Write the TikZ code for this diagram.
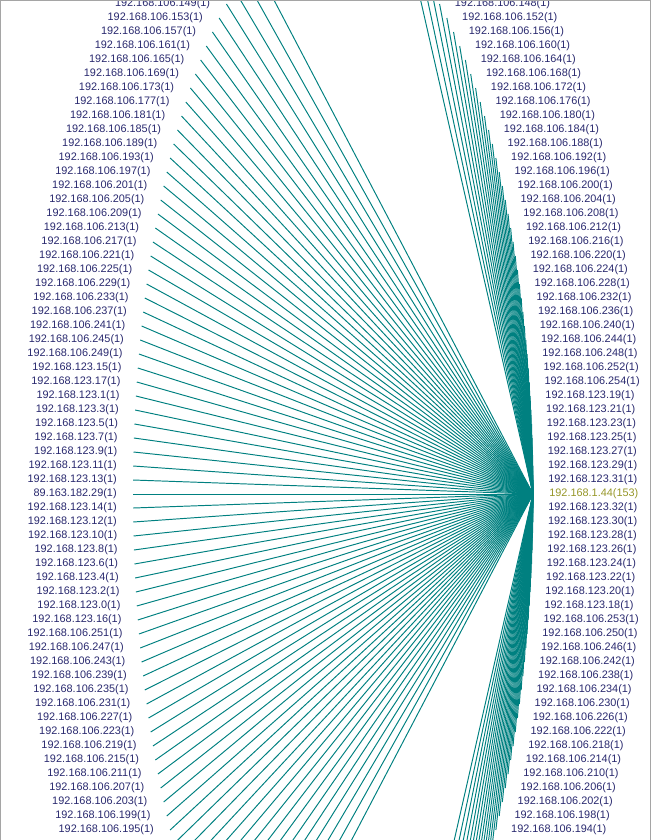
\documentclass[tikz,border=0pt]{standalone}
\usepackage{fontspec}
\setmainfont{Liberation Sans}
\usetikzlibrary{positioning}
\definecolor{linkteal}{RGB}{0,128,128}
\definecolor{hostblue}{RGB}{40,40,110}
\definecolor{hubolive}{RGB}{150,150,40}
\definecolor{framegray}{RGB}{165,165,165}
\tikzset{
   host/.style={ inner sep=0pt, text=hostblue, font=\fontsize{6.2pt}{7pt}\selectfont},
   hub host/.style={ host, text=hubolive},
   link/.style={ draw=linkteal, line width=0.55pt},
   frame/.style={ draw=framegray, line width=0.6pt},
}

\begin{document}
\begin{tikzpicture}[x=0.02cm,y=-0.02cm]
  \useasboundingbox (0,0) rectangle (651,840);
  \clip (0,0) rectangle (651,840);

  % hub sits on the right end of the ring
  \coordinate (hub) at (533,494);
  \node[hub host, right=0.32cm of hub] (hub text) {192.168.1.44(153)};

  % left half of the ring
  \foreach \lab [count=\n] in {
      192.168.106.149(1), 192.168.106.153(1), 192.168.106.157(1), 192.168.106.161(1),
      192.168.106.165(1), 192.168.106.169(1), 192.168.106.173(1), 192.168.106.177(1),
      192.168.106.181(1), 192.168.106.185(1), 192.168.106.189(1), 192.168.106.193(1),
      192.168.106.197(1), 192.168.106.201(1), 192.168.106.205(1), 192.168.106.209(1),
      192.168.106.213(1), 192.168.106.217(1), 192.168.106.221(1), 192.168.106.225(1),
      192.168.106.229(1), 192.168.106.233(1), 192.168.106.237(1), 192.168.106.241(1),
      192.168.106.245(1), 192.168.106.249(1), 192.168.123.15(1), 192.168.123.17(1),
      192.168.123.1(1), 192.168.123.3(1), 192.168.123.5(1), 192.168.123.7(1),
      192.168.123.9(1), 192.168.123.11(1), 192.168.123.13(1), 89.163.182.29(1),
      192.168.123.14(1), 192.168.123.12(1), 192.168.123.10(1), 192.168.123.8(1),
      192.168.123.6(1), 192.168.123.4(1), 192.168.123.2(1), 192.168.123.0(1),
      192.168.123.16(1), 192.168.106.251(1), 192.168.106.247(1), 192.168.106.243(1),
      192.168.106.239(1), 192.168.106.235(1), 192.168.106.231(1), 192.168.106.227(1),
      192.168.106.223(1), 192.168.106.219(1), 192.168.106.215(1), 192.168.106.211(1),
      192.168.106.207(1), 192.168.106.203(1), 192.168.106.199(1), 192.168.106.195(1)} {
    \pgfmathsetmacro{\dy}{14*(\n-36)}
    \pgfmathsetmacro{\px}{333-200*sqrt(1-(\dy/579)^2)}
    \coordinate (L\n) at (\px,494+\dy);
    \node[host, left=0.32cm of L\n] (tL\n) {\lab};
    \draw[link] (hub) -- (L\n);
  }

  % right half of the ring
  \foreach \lab [count=\n] in {
      192.168.106.148(1), 192.168.106.152(1), 192.168.106.156(1), 192.168.106.160(1),
      192.168.106.164(1), 192.168.106.168(1), 192.168.106.172(1), 192.168.106.176(1),
      192.168.106.180(1), 192.168.106.184(1), 192.168.106.188(1), 192.168.106.192(1),
      192.168.106.196(1), 192.168.106.200(1), 192.168.106.204(1), 192.168.106.208(1),
      192.168.106.212(1), 192.168.106.216(1), 192.168.106.220(1), 192.168.106.224(1),
      192.168.106.228(1), 192.168.106.232(1), 192.168.106.236(1), 192.168.106.240(1),
      192.168.106.244(1), 192.168.106.248(1), 192.168.106.252(1), 192.168.106.254(1),
      192.168.123.19(1), 192.168.123.21(1), 192.168.123.23(1), 192.168.123.25(1),
      192.168.123.27(1), 192.168.123.29(1), 192.168.123.31(1),
      192.168.123.32(1), 192.168.123.30(1), 192.168.123.28(1), 192.168.123.26(1),
      192.168.123.24(1), 192.168.123.22(1), 192.168.123.20(1), 192.168.123.18(1),
      192.168.106.253(1), 192.168.106.250(1), 192.168.106.246(1), 192.168.106.242(1),
      192.168.106.238(1), 192.168.106.234(1), 192.168.106.230(1), 192.168.106.226(1),
      192.168.106.222(1), 192.168.106.218(1), 192.168.106.214(1), 192.168.106.210(1),
      192.168.106.206(1), 192.168.106.202(1), 192.168.106.198(1), 192.168.106.194(1)} {
    \pgfmathtruncatemacro{\k}{\n<36 ? \n-36 : \n-35}
    \pgfmathsetmacro{\px}{333+200*sqrt(1-(14*\k/579)^2)}
    \coordinate (R\n) at (\px,494+14*\k);
    \node[host, right=0.3cm of R\n] (tR\n) {\lab};
    \draw[link] (hub) -- (R\n);
  }

  % hosts beyond the top and bottom edge, only their links show
  \foreach \k in {-38,-37,-36,25,26,...,38} {
    \pgfmathtruncatemacro{\m}{\k+40}
    \pgfmathsetmacro{\px}{200*sqrt(1-(14*\k/579)^2)}
    \coordinate (Lo\m) at (333-\px,494+14*\k);
    \coordinate (Ro\m) at (333+\px,494+14*\k);
    \draw[link] (hub) -- (Lo\m);
    \draw[link] (hub) -- (Ro\m);
  }

  \draw[frame] (0.5,840) -- (0.5,0.5) -- (650.5,0.5) -- (650.5,840);
\end{tikzpicture}
\end{document}
